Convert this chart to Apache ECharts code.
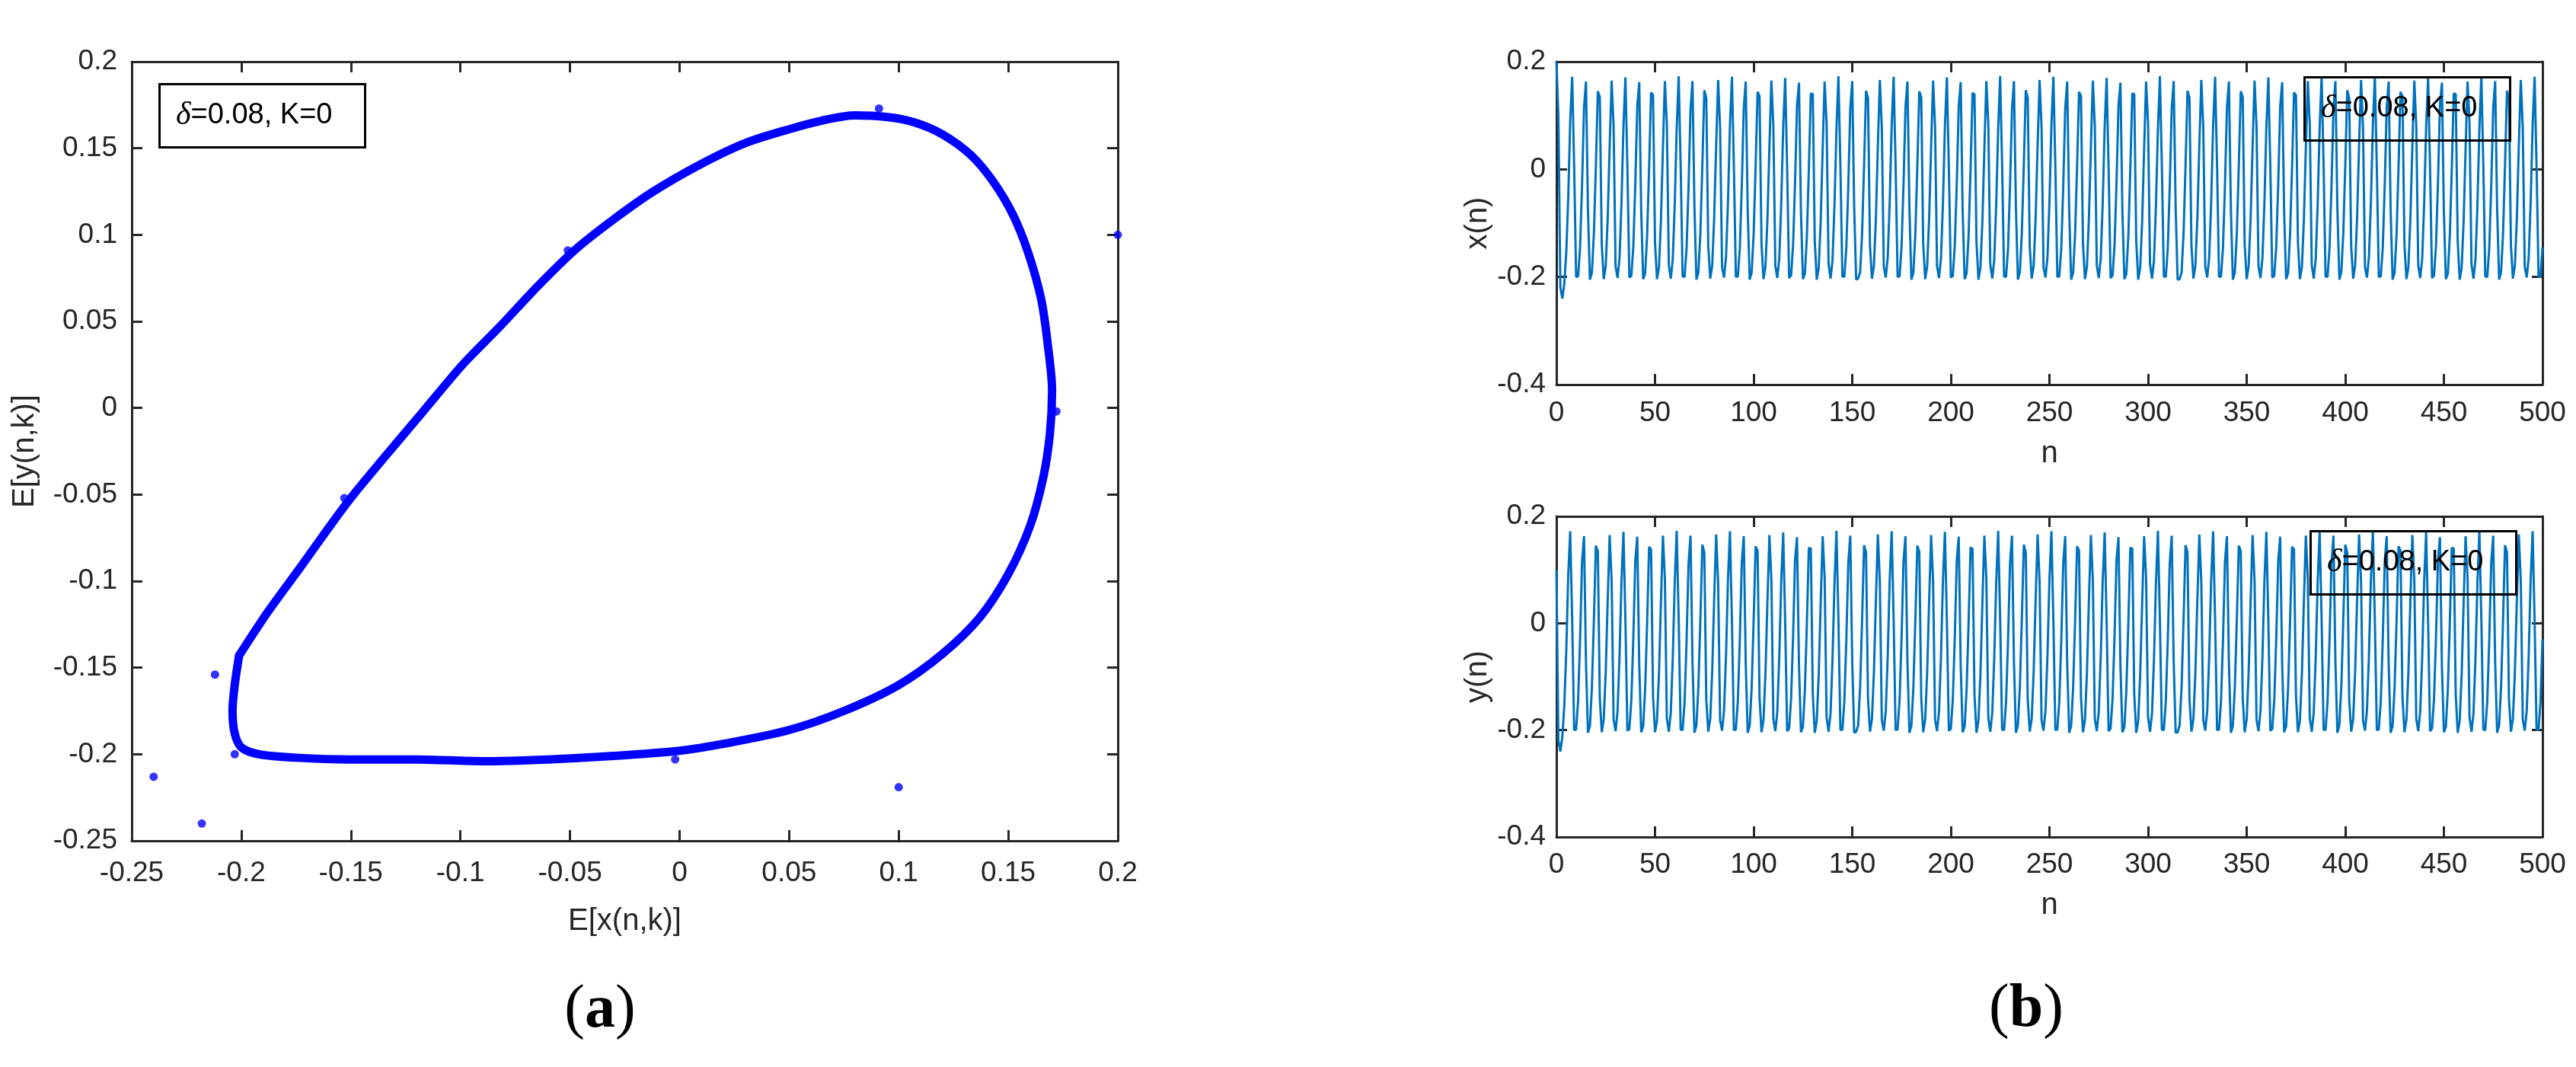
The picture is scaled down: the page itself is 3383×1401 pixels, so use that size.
<!DOCTYPE html>
<html>
<head>
<meta charset="utf-8">
<script src="https://cdn.jsdelivr.net/npm/echarts@6/dist/echarts.min.js"></script>
<style>
  html, body { margin: 0; padding: 0; background: #fff; }
  #chart { width: 3383px; height: 1401px; }
</style>
</head>
<body>
<div id="chart"></div>
<script>
// (a) phase plot: traced limit cycle, clockwise from the lower-left corner
const loopX = [-0.201, -0.188, -0.173, -0.160, -0.150, -0.135, -0.117, -0.099, -0.082, -0.065, -0.048, -0.030, -0.012, 0.010, 0.030, 0.050, 0.065, 0.080, 0.095, 0.107, 0.120, 0.133, 0.143, 0.152, 0.159, 0.165, 0.168, 0.170, 0.169, 0.166, 0.160, 0.150, 0.137, 0.120, 0.100, 0.075, 0.050, 0.020, 0.000, -0.030, -0.060, -0.090, -0.120, -0.150, -0.175, -0.192, -0.200, -0.203, -0.204, -0.203, -0.201];
const loopY = [-0.143, -0.118, -0.092, -0.069, -0.052, -0.029, -0.002, 0.025, 0.047, 0.070, 0.091, 0.109, 0.125, 0.141, 0.153, 0.161, 0.166, 0.169, 0.168, 0.165, 0.158, 0.146, 0.131, 0.112, 0.090, 0.063, 0.037, 0.010, -0.015, -0.040, -0.068, -0.096, -0.121, -0.142, -0.160, -0.175, -0.186, -0.194, -0.198, -0.201, -0.203, -0.204, -0.203, -0.203, -0.202, -0.200, -0.196, -0.188, -0.175, -0.160, -0.143];
// transient points off the cycle
const dotX = [0.200, 0.100, -0.218, -0.240, -0.212, -0.153, -0.051, 0.091, 0.172, -0.002, -0.203, -0.201];
const dotY = [0.100, -0.219, -0.240, -0.213, -0.154, -0.052, 0.091, 0.173, -0.002, -0.203, -0.200, -0.143];

// (b) time series x(n), y(n), n = 0..500
const xn = [
  0.200, 0.100, -0.219, -0.240, -0.213, -0.154, -0.052, 0.091,
  0.172, 0.005, -0.200, -0.199, -0.145, -0.030, 0.115, 0.163, -0.075, -0.205, -0.192, -0.120, 0.005, 0.145, 0.135, -0.140, -0.204, -0.180, -0.092, 0.042, 0.165, 0.080, -0.180, -0.202, -0.165, -0.062, 0.080,
  0.171, 0.003, -0.201, -0.198, -0.143, -0.028, 0.117, 0.162, -0.078, -0.204, -0.193, -0.122, 0.002, 0.143, 0.138, -0.136, -0.204, -0.182, -0.095, 0.039, 0.164, 0.084, -0.178, -0.203, -0.167, -0.065, 0.077,
  0.173, 0.008, -0.199, -0.200, -0.147, -0.033, 0.112, 0.164, -0.072, -0.205, -0.191, -0.118, 0.008, 0.147, 0.132, -0.143, -0.203, -0.179, -0.090, 0.045, 0.166, 0.077, -0.182, -0.201, -0.163, -0.060, 0.083,
  0.172, 0.004, -0.200, -0.199, -0.146, -0.031, 0.114, 0.163, -0.076, -0.205, -0.192, -0.121, 0.004, 0.144, 0.136, -0.139, -0.204, -0.181, -0.093, 0.041, 0.165, 0.081, -0.179, -0.202, -0.166, -0.063, 0.079,
  0.170, 0.001, -0.202, -0.197, -0.141, -0.026, 0.119, 0.161, -0.080, -0.204, -0.194, -0.124, 0.000, 0.141, 0.140, -0.133, -0.205, -0.183, -0.097, 0.037, 0.163, 0.086, -0.176, -0.203, -0.169, -0.067, 0.075,
  0.173, 0.007, -0.199, -0.200, -0.146, -0.032, 0.113, 0.164, -0.073, -0.205, -0.203, -0.191, -0.119, 0.007, 0.146, 0.133, -0.142, -0.203, -0.179, -0.091, 0.044, 0.166, 0.078, -0.181, -0.201, -0.164, -0.061, 0.082,
  0.172, 0.006, -0.200, -0.199, -0.144, -0.029, 0.116, 0.163, -0.074, -0.205, -0.192, -0.120, 0.006, 0.145, 0.134, -0.141, -0.204, -0.180, -0.091, 0.043, 0.165, 0.079, -0.180, -0.202, -0.165, -0.062, 0.081,
  0.171, 0.002, -0.201, -0.198, -0.142, -0.027, 0.118, 0.162, -0.079, -0.204, -0.193, -0.123, 0.001, 0.142, 0.139, -0.135, -0.205, -0.182, -0.096, 0.038, 0.164, 0.085, -0.177, -0.203, -0.168, -0.066, 0.076,
  0.173, 0.008, -0.199, -0.200, -0.147, -0.033, 0.112, 0.164, -0.072, -0.205, -0.191, -0.118, 0.008, 0.147, 0.132, -0.143, -0.203, -0.179, -0.090, 0.045, 0.166, 0.077, -0.182, -0.201, -0.163, -0.060, 0.083,
  0.172, 0.004, -0.200, -0.199, -0.146, -0.031, 0.114, 0.163, -0.076, -0.205, -0.192, -0.121, 0.004, 0.144, 0.136, -0.139, -0.204, -0.181, -0.093, 0.041, 0.165, 0.081, -0.179, -0.202, -0.166, -0.063, 0.079,
  0.170, 0.001, -0.202, -0.197, -0.141, -0.026, 0.119, 0.161, -0.080, -0.204, -0.194, -0.124, 0.000, 0.141, 0.140, -0.133, -0.205, -0.183, -0.097, 0.037, 0.163, 0.086, -0.176, -0.203, -0.169, -0.067, 0.075,
  0.173, 0.007, -0.199, -0.200, -0.146, -0.032, 0.113, 0.164, -0.073, -0.205, -0.204, -0.191, -0.119, 0.007, 0.146, 0.133, -0.142, -0.203, -0.179, -0.091, 0.044, 0.166, 0.078, -0.181, -0.201, -0.164, -0.061, 0.082,
  0.172, 0.005, -0.200, -0.199, -0.145, -0.030, 0.115, 0.163, -0.075, -0.205, -0.192, -0.120, 0.005, 0.145, 0.135, -0.140, -0.204, -0.180, -0.092, 0.042, 0.165, 0.080, -0.180, -0.202, -0.165, -0.062, 0.080,
  0.171, 0.003, -0.201, -0.198, -0.143, -0.028, 0.117, 0.162, -0.078, -0.204, -0.193, -0.122, 0.002, 0.143, 0.138, -0.136, -0.204, -0.182, -0.095, 0.039, 0.164, 0.084, -0.178, -0.203, -0.167, -0.065, 0.077,
  0.173, 0.008, -0.199, -0.200, -0.147, -0.033, 0.112, 0.164, -0.072, -0.205, -0.191, -0.118, 0.008, 0.147, 0.132, -0.143, -0.203, -0.179, -0.090, 0.045, 0.166, 0.077, -0.182, -0.201, -0.163, -0.060, 0.083,
  0.172, 0.004, -0.200, -0.199, -0.146, -0.031, 0.114, 0.163, -0.076, -0.205, -0.192, -0.121, 0.004, 0.144, 0.136, -0.139, -0.204, -0.181, -0.093, 0.041, 0.165, 0.081, -0.179, -0.202, -0.166, -0.063, 0.079,
  0.170, 0.001, -0.202, -0.197, -0.141, -0.026, 0.119, 0.161, -0.080, -0.204, -0.194, -0.124, 0.000, 0.141, 0.140, -0.133, -0.205, -0.183, -0.097, 0.037, 0.163, 0.086, -0.176, -0.203, -0.169, -0.067, 0.075,
  0.173, 0.007, -0.199, -0.200, -0.146, -0.032, 0.113, 0.164, -0.073, -0.205, -0.191, -0.119, 0.007, 0.146, 0.133, -0.142, -0.203, -0.179, -0.091, 0.044, 0.166, 0.078, -0.181, -0.201, -0.164, -0.061, 0.082,
  0.172, 0.005, -0.200, -0.199, -0.145
];
const yn = [
  0.100, -0.219, -0.240, -0.213, -0.154, -0.052, 0.091,
  0.172, 0.005, -0.200, -0.199, -0.145, -0.030, 0.115, 0.163, -0.075, -0.205, -0.192, -0.120, 0.005, 0.145, 0.135, -0.140, -0.204, -0.180, -0.092, 0.042, 0.165, 0.080, -0.180, -0.202, -0.165, -0.062, 0.080,
  0.171, 0.003, -0.201, -0.198, -0.143, -0.028, 0.117, 0.162, -0.078, -0.204, -0.193, -0.122, 0.002, 0.143, 0.138, -0.136, -0.204, -0.182, -0.095, 0.039, 0.164, 0.084, -0.178, -0.203, -0.167, -0.065, 0.077,
  0.173, 0.008, -0.199, -0.200, -0.147, -0.033, 0.112, 0.164, -0.072, -0.205, -0.191, -0.118, 0.008, 0.147, 0.132, -0.143, -0.203, -0.179, -0.090, 0.045, 0.166, 0.077, -0.182, -0.201, -0.163, -0.060, 0.083,
  0.172, 0.004, -0.200, -0.199, -0.146, -0.031, 0.114, 0.163, -0.076, -0.205, -0.192, -0.121, 0.004, 0.144, 0.136, -0.139, -0.204, -0.181, -0.093, 0.041, 0.165, 0.081, -0.179, -0.202, -0.166, -0.063, 0.079,
  0.170, 0.001, -0.202, -0.197, -0.141, -0.026, 0.119, 0.161, -0.080, -0.204, -0.194, -0.124, 0.000, 0.141, 0.140, -0.133, -0.205, -0.183, -0.097, 0.037, 0.163, 0.086, -0.176, -0.203, -0.169, -0.067, 0.075,
  0.173, 0.007, -0.199, -0.200, -0.146, -0.032, 0.113, 0.164, -0.073, -0.205, -0.203, -0.191, -0.119, 0.007, 0.146, 0.133, -0.142, -0.203, -0.179, -0.091, 0.044, 0.166, 0.078, -0.181, -0.201, -0.164, -0.061, 0.082,
  0.172, 0.006, -0.200, -0.199, -0.144, -0.029, 0.116, 0.163, -0.074, -0.205, -0.192, -0.120, 0.006, 0.145, 0.134, -0.141, -0.204, -0.180, -0.091, 0.043, 0.165, 0.079, -0.180, -0.202, -0.165, -0.062, 0.081,
  0.171, 0.002, -0.201, -0.198, -0.142, -0.027, 0.118, 0.162, -0.079, -0.204, -0.193, -0.123, 0.001, 0.142, 0.139, -0.135, -0.205, -0.182, -0.096, 0.038, 0.164, 0.085, -0.177, -0.203, -0.168, -0.066, 0.076,
  0.173, 0.008, -0.199, -0.200, -0.147, -0.033, 0.112, 0.164, -0.072, -0.205, -0.191, -0.118, 0.008, 0.147, 0.132, -0.143, -0.203, -0.179, -0.090, 0.045, 0.166, 0.077, -0.182, -0.201, -0.163, -0.060, 0.083,
  0.172, 0.004, -0.200, -0.199, -0.146, -0.031, 0.114, 0.163, -0.076, -0.205, -0.192, -0.121, 0.004, 0.144, 0.136, -0.139, -0.204, -0.181, -0.093, 0.041, 0.165, 0.081, -0.179, -0.202, -0.166, -0.063, 0.079,
  0.170, 0.001, -0.202, -0.197, -0.141, -0.026, 0.119, 0.161, -0.080, -0.204, -0.194, -0.124, 0.000, 0.141, 0.140, -0.133, -0.205, -0.183, -0.097, 0.037, 0.163, 0.086, -0.176, -0.203, -0.169, -0.067, 0.075,
  0.173, 0.007, -0.199, -0.200, -0.146, -0.032, 0.113, 0.164, -0.073, -0.205, -0.204, -0.191, -0.119, 0.007, 0.146, 0.133, -0.142, -0.203, -0.179, -0.091, 0.044, 0.166, 0.078, -0.181, -0.201, -0.164, -0.061, 0.082,
  0.172, 0.005, -0.200, -0.199, -0.145, -0.030, 0.115, 0.163, -0.075, -0.205, -0.192, -0.120, 0.005, 0.145, 0.135, -0.140, -0.204, -0.180, -0.092, 0.042, 0.165, 0.080, -0.180, -0.202, -0.165, -0.062, 0.080,
  0.171, 0.003, -0.201, -0.198, -0.143, -0.028, 0.117, 0.162, -0.078, -0.204, -0.193, -0.122, 0.002, 0.143, 0.138, -0.136, -0.204, -0.182, -0.095, 0.039, 0.164, 0.084, -0.178, -0.203, -0.167, -0.065, 0.077,
  0.173, 0.008, -0.199, -0.200, -0.147, -0.033, 0.112, 0.164, -0.072, -0.205, -0.191, -0.118, 0.008, 0.147, 0.132, -0.143, -0.203, -0.179, -0.090, 0.045, 0.166, 0.077, -0.182, -0.201, -0.163, -0.060, 0.083,
  0.172, 0.004, -0.200, -0.199, -0.146, -0.031, 0.114, 0.163, -0.076, -0.205, -0.192, -0.121, 0.004, 0.144, 0.136, -0.139, -0.204, -0.181, -0.093, 0.041, 0.165, 0.081, -0.179, -0.202, -0.166, -0.063, 0.079,
  0.170, 0.001, -0.202, -0.197, -0.141, -0.026, 0.119, 0.161, -0.080, -0.204, -0.194, -0.124, 0.000, 0.141, 0.140, -0.133, -0.205, -0.183, -0.097, 0.037, 0.163, 0.086, -0.176, -0.203, -0.169, -0.067, 0.075,
  0.173, 0.007, -0.199, -0.200, -0.146, -0.032, 0.113, 0.164, -0.073, -0.205, -0.191, -0.119, 0.007, 0.146, 0.133, -0.142, -0.203, -0.179, -0.091, 0.044, 0.166, 0.078, -0.181, -0.201, -0.164, -0.061, 0.082,
  0.172, 0.005, -0.200, -0.199, -0.145, -0.030
];

const legendText = '{d|δ}=0.08, K=0';

const axisColor = '#262626';
const fmt = v => String(parseFloat(v.toFixed(2)));

function frameAxis(opts, labels) {
  return Object.assign({
    type: 'value',
    axisLine: { show: true, onZero: false, lineStyle: { color: axisColor, width: 3 } },
    axisTick: { show: true, inside: true, length: 14, lineStyle: { color: axisColor, width: 3 } },
    splitLine: { show: false },
    axisLabel: labels ? Object.assign({
      show: true, fontFamily: 'Liberation Sans', fontSize: 37, color: axisColor,
      showMinLabel: true, showMaxLabel: true, formatter: fmt
    }, labels) : { show: false },
    nameTextStyle: { fontFamily: 'Liberation Sans', fontSize: 40, color: axisColor }
  }, opts);
}

function legendBox(left, top) {
  return {
    text: legendText, left: left, top: top,
    borderColor: '#000', borderWidth: 3,
    padding: [21, 43, 21, 22],
    textStyle: {
      fontFamily: 'Liberation Sans', fontSize: 38, fontWeight: 'normal', color: '#000', lineHeight: 38,
      rich: { d: { fontFamily: 'Liberation Serif', fontStyle: 'italic', fontSize: 42, lineHeight: 38, color: '#000' } }
    }
  };
}

const chart = echarts.init(document.getElementById('chart'));
chart.setOption({
  animation: false,
  backgroundColor: '#fff',
  title: [legendBox(209, 112), legendBox(3026, 103), legendBox(3034, 699)],
  grid: [
    { left: 173, top: 81, width: 1295, height: 1023, outerBoundsMode: 'none' },
    { left: 2044, top: 81, width: 1295, height: 424, outerBoundsMode: 'none' },
    { left: 2044, top: 678, width: 1295, height: 421, outerBoundsMode: 'none' }
  ],
  xAxis: [
    frameAxis({ gridIndex: 0, position: 'bottom', min: -0.25, max: 0.2, interval: 0.05,
      name: 'E[x(n,k)]', nameLocation: 'middle', nameGap: 86 }, { margin: 24 }),
    frameAxis({ gridIndex: 0, position: 'top', min: -0.25, max: 0.2, interval: 0.05 }),
    frameAxis({ gridIndex: 1, position: 'bottom', min: 0, max: 500, interval: 50,
      name: 'n', nameLocation: 'middle', nameGap: 71 }, { margin: 19 }),
    frameAxis({ gridIndex: 1, position: 'top', min: 0, max: 500, interval: 50 }),
    frameAxis({ gridIndex: 2, position: 'bottom', min: 0, max: 500, interval: 50,
      name: 'n', nameLocation: 'middle', nameGap: 70 }, { margin: 18 }),
    frameAxis({ gridIndex: 2, position: 'top', min: 0, max: 500, interval: 50 })
  ],
  yAxis: [
    frameAxis({ gridIndex: 0, position: 'left', min: -0.25, max: 0.2, interval: 0.05,
      name: 'E[y(n,k)]', nameLocation: 'middle', nameGap: 120 }, { margin: 19 }),
    frameAxis({ gridIndex: 0, position: 'right', min: -0.25, max: 0.2, interval: 0.05 }),
    frameAxis({ gridIndex: 1, position: 'left', min: -0.4, max: 0.2, interval: 0.2,
      name: 'x(n)', nameLocation: 'middle', nameGap: 83 }, { margin: 14 }),
    frameAxis({ gridIndex: 1, position: 'right', min: -0.4, max: 0.2, interval: 0.2 }),
    frameAxis({ gridIndex: 2, position: 'left', min: -0.4, max: 0.2, interval: 0.2,
      name: 'y(n)', nameLocation: 'middle', nameGap: 83 }, { margin: 14 }),
    frameAxis({ gridIndex: 2, position: 'right', min: -0.4, max: 0.2, interval: 0.2 })
  ],
  series: [
    {
      type: 'line', xAxisIndex: 0, yAxisIndex: 0,
      data: loopX.map((v, i) => [v, loopY[i]]),
      showSymbol: false, smooth: 0.3,
      lineStyle: { color: '#0000ff', width: 11, cap: 'round', join: 'round' }
    },
    {
      type: 'scatter', xAxisIndex: 0, yAxisIndex: 0, clip: false,
      data: dotX.map((v, i) => [v, dotY[i]]),
      symbolSize: 11, itemStyle: { color: '#0000ff' }
    },
    {
      type: 'line', xAxisIndex: 2, yAxisIndex: 2,
      data: xn.map((v, i) => [i, v]),
      showSymbol: false,
      lineStyle: { color: '#0072bd', width: 3 }
    },
    {
      type: 'line', xAxisIndex: 4, yAxisIndex: 4,
      data: yn.map((v, i) => [i, v]),
      showSymbol: false,
      lineStyle: { color: '#0072bd', width: 3 }
    }
  ],
  graphic: [
    { type: 'text', x: 788, y: 1327, style: {
      text: '{p|(}{b|a}{p|)}', align: 'center', verticalAlign: 'middle',
      rich: { p: { fontFamily: 'Liberation Serif', fontSize: 80, fill: '#000' },
              b: { fontFamily: 'Liberation Serif', fontSize: 80, fontWeight: 'bold', fill: '#000' } } } },
    { type: 'text', x: 2661, y: 1326, style: {
      text: '{p|(}{b|b}{p|)}', align: 'center', verticalAlign: 'middle',
      rich: { p: { fontFamily: 'Liberation Serif', fontSize: 80, fill: '#000' },
              b: { fontFamily: 'Liberation Serif', fontSize: 80, fontWeight: 'bold', fill: '#000' } } } }
  ]
});
</script>
</body>
</html>
